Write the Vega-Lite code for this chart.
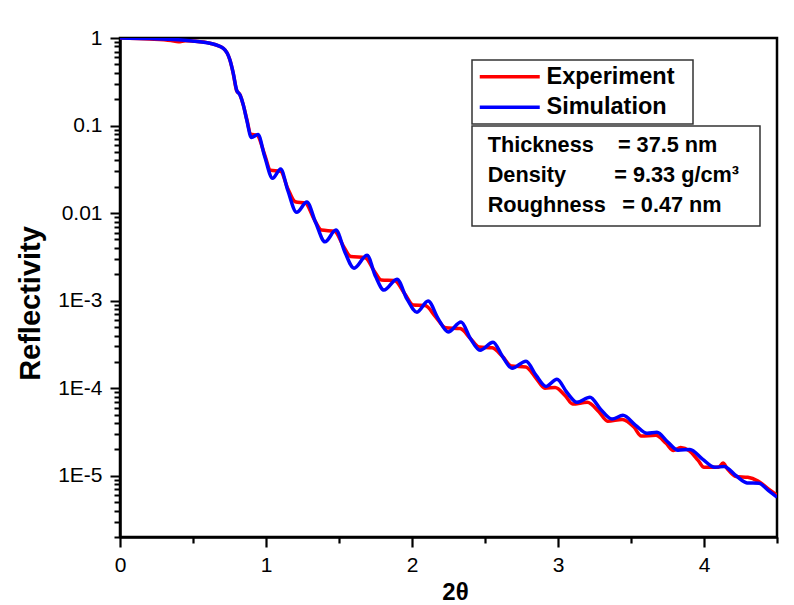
{
  "$schema": "https://vega.github.io/schema/vega-lite/v6.json",
  "width": 657,
  "height": 499,
  "autosize": "none",
  "padding": {"left": 120, "top": 38, "right": 17, "bottom": 68},
  "config": {
    "font": "Liberation Sans",
    "view": {"stroke": "black", "strokeWidth": 2.5},
    "legend": {"strokeWidth": 1.5}
  },
  "datasets": {
    "curves": [
      {"series": "Experiment", "x": 0, "y": 1.0},
      {"series": "Experiment", "x": 0.2, "y": 0.975},
      {"series": "Experiment", "x": 0.35, "y": 0.935},
      {"series": "Experiment", "x": 0.4, "y": 0.905},
      {"series": "Experiment", "x": 0.45, "y": 0.93},
      {"series": "Experiment", "x": 0.5, "y": 0.92},
      {"series": "Experiment", "x": 0.616, "y": 0.87},
      {"series": "Experiment", "x": 0.708, "y": 0.76},
      {"series": "Experiment", "x": 0.753, "y": 0.56},
      {"series": "Experiment", "x": 0.776, "y": 0.39},
      {"series": "Experiment", "x": 0.799, "y": 0.25},
      {"series": "Experiment", "x": 0.822, "y": 0.225},
      {"series": "Experiment", "x": 0.845, "y": 0.17},
      {"series": "Experiment", "x": 0.87, "y": 0.115},
      {"series": "Experiment", "x": 0.895, "y": 0.08},
      {"series": "Experiment", "x": 0.94, "y": 0.077},
      {"series": "Experiment", "x": 0.99, "y": 0.047},
      {"series": "Experiment", "x": 1.03, "y": 0.031},
      {"series": "Experiment", "x": 1.1, "y": 0.03},
      {"series": "Experiment", "x": 1.15, "y": 0.019},
      {"series": "Experiment", "x": 1.2, "y": 0.0135},
      {"series": "Experiment", "x": 1.27, "y": 0.013},
      {"series": "Experiment", "x": 1.33, "y": 0.0085},
      {"series": "Experiment", "x": 1.38, "y": 0.0064},
      {"series": "Experiment", "x": 1.47, "y": 0.0062},
      {"series": "Experiment", "x": 1.53, "y": 0.0042},
      {"series": "Experiment", "x": 1.58, "y": 0.0032},
      {"series": "Experiment", "x": 1.68, "y": 0.0031},
      {"series": "Experiment", "x": 1.74, "y": 0.0022},
      {"series": "Experiment", "x": 1.79, "y": 0.00172},
      {"series": "Experiment", "x": 1.88, "y": 0.0017},
      {"series": "Experiment", "x": 1.95, "y": 0.0012},
      {"series": "Experiment", "x": 2.01, "y": 0.00089},
      {"series": "Experiment", "x": 2.09, "y": 0.00088},
      {"series": "Experiment", "x": 2.16, "y": 0.00066},
      {"series": "Experiment", "x": 2.23, "y": 0.00049},
      {"series": "Experiment", "x": 2.33, "y": 0.00048},
      {"series": "Experiment", "x": 2.4, "y": 0.00037},
      {"series": "Experiment", "x": 2.46, "y": 0.000295},
      {"series": "Experiment", "x": 2.55, "y": 0.00029},
      {"series": "Experiment", "x": 2.62, "y": 0.00023},
      {"series": "Experiment", "x": 2.68, "y": 0.00018},
      {"series": "Experiment", "x": 2.78, "y": 0.000175},
      {"series": "Experiment", "x": 2.85, "y": 0.00013},
      {"series": "Experiment", "x": 2.91, "y": 0.0001},
      {"series": "Experiment", "x": 2.98, "y": 0.000102},
      {"series": "Experiment", "x": 3.05, "y": 0.000082},
      {"series": "Experiment", "x": 3.1, "y": 0.000066},
      {"series": "Experiment", "x": 3.2, "y": 0.000069},
      {"series": "Experiment", "x": 3.28, "y": 0.000054},
      {"series": "Experiment", "x": 3.34, "y": 0.000042},
      {"series": "Experiment", "x": 3.44, "y": 0.000044},
      {"series": "Experiment", "x": 3.52, "y": 0.000036},
      {"series": "Experiment", "x": 3.57, "y": 0.0000285},
      {"series": "Experiment", "x": 3.67, "y": 0.000029},
      {"series": "Experiment", "x": 3.74, "y": 0.0000235},
      {"series": "Experiment", "x": 3.79, "y": 0.0000195},
      {"series": "Experiment", "x": 3.84, "y": 0.000021},
      {"series": "Experiment", "x": 3.9, "y": 0.0000193},
      {"series": "Experiment", "x": 3.96, "y": 0.000015},
      {"series": "Experiment", "x": 4.0, "y": 0.0000125},
      {"series": "Experiment", "x": 4.1, "y": 0.0000125},
      {"series": "Experiment", "x": 4.13, "y": 0.000014},
      {"series": "Experiment", "x": 4.16, "y": 0.000012},
      {"series": "Experiment", "x": 4.22, "y": 0.0000098},
      {"series": "Experiment", "x": 4.3, "y": 0.0000096},
      {"series": "Experiment", "x": 4.37, "y": 0.0000087},
      {"series": "Experiment", "x": 4.45, "y": 0.0000069},
      {"series": "Experiment", "x": 4.5, "y": 0.000006},
      {"series": "Simulation", "x": 0, "y": 1.0},
      {"series": "Simulation", "x": 0.2, "y": 0.985},
      {"series": "Simulation", "x": 0.4, "y": 0.955},
      {"series": "Simulation", "x": 0.479, "y": 0.93},
      {"series": "Simulation", "x": 0.616, "y": 0.87},
      {"series": "Simulation", "x": 0.708, "y": 0.76},
      {"series": "Simulation", "x": 0.753, "y": 0.56},
      {"series": "Simulation", "x": 0.776, "y": 0.395},
      {"series": "Simulation", "x": 0.799, "y": 0.254},
      {"series": "Simulation", "x": 0.822, "y": 0.223},
      {"series": "Simulation", "x": 0.845, "y": 0.171},
      {"series": "Simulation", "x": 0.868, "y": 0.116},
      {"series": "Simulation", "x": 0.9, "y": 0.073},
      {"series": "Simulation", "x": 0.945, "y": 0.079},
      {"series": "Simulation", "x": 0.99, "y": 0.045},
      {"series": "Simulation", "x": 1.045, "y": 0.025},
      {"series": "Simulation", "x": 1.1, "y": 0.032},
      {"series": "Simulation", "x": 1.15, "y": 0.018},
      {"series": "Simulation", "x": 1.21, "y": 0.0102},
      {"series": "Simulation", "x": 1.28, "y": 0.0134},
      {"series": "Simulation", "x": 1.34, "y": 0.0078},
      {"series": "Simulation", "x": 1.404, "y": 0.0047},
      {"series": "Simulation", "x": 1.479, "y": 0.0064},
      {"series": "Simulation", "x": 1.54, "y": 0.0036},
      {"series": "Simulation", "x": 1.603, "y": 0.00235},
      {"series": "Simulation", "x": 1.692, "y": 0.0033},
      {"series": "Simulation", "x": 1.75, "y": 0.0019},
      {"series": "Simulation", "x": 1.808, "y": 0.00132},
      {"series": "Simulation", "x": 1.897, "y": 0.00176},
      {"series": "Simulation", "x": 1.965, "y": 0.00105},
      {"series": "Simulation", "x": 2.034, "y": 0.00074},
      {"series": "Simulation", "x": 2.11, "y": 0.00099},
      {"series": "Simulation", "x": 2.18, "y": 0.00062},
      {"series": "Simulation", "x": 2.247, "y": 0.00044},
      {"series": "Simulation", "x": 2.336, "y": 0.00057},
      {"series": "Simulation", "x": 2.4, "y": 0.00037},
      {"series": "Simulation", "x": 2.466, "y": 0.000272},
      {"series": "Simulation", "x": 2.555, "y": 0.000336},
      {"series": "Simulation", "x": 2.62, "y": 0.00023},
      {"series": "Simulation", "x": 2.685, "y": 0.000169},
      {"series": "Simulation", "x": 2.781, "y": 0.000204},
      {"series": "Simulation", "x": 2.85, "y": 0.00014},
      {"series": "Simulation", "x": 2.918, "y": 0.000105},
      {"series": "Simulation", "x": 2.993, "y": 0.000127},
      {"series": "Simulation", "x": 3.06, "y": 0.00009},
      {"series": "Simulation", "x": 3.13, "y": 0.000069},
      {"series": "Simulation", "x": 3.219, "y": 0.000079},
      {"series": "Simulation", "x": 3.29, "y": 0.000058},
      {"series": "Simulation", "x": 3.37, "y": 0.0000445},
      {"series": "Simulation", "x": 3.445, "y": 0.000049},
      {"series": "Simulation", "x": 3.53, "y": 0.000038},
      {"series": "Simulation", "x": 3.61, "y": 0.0000306},
      {"series": "Simulation", "x": 3.678, "y": 0.0000314},
      {"series": "Simulation", "x": 3.75, "y": 0.0000245},
      {"series": "Simulation", "x": 3.822, "y": 0.0000196},
      {"series": "Simulation", "x": 3.904, "y": 0.00002},
      {"series": "Simulation", "x": 3.99, "y": 0.0000155},
      {"series": "Simulation", "x": 4.075, "y": 0.0000125},
      {"series": "Simulation", "x": 4.137, "y": 0.0000128},
      {"series": "Simulation", "x": 4.22, "y": 0.00001},
      {"series": "Simulation", "x": 4.295, "y": 0.0000083},
      {"series": "Simulation", "x": 4.377, "y": 0.0000082},
      {"series": "Simulation", "x": 4.44, "y": 0.0000068},
      {"series": "Simulation", "x": 4.5, "y": 0.0000057}
    ],
    "params": [
      {"param": "Thickness\u00a0\u00a0\u00a0\u00a0= 37.5 nm"},
      {"param": "Density\u00a0\u00a0\u00a0\u00a0\u00a0\u00a0\u00a0\u00a0= 9.33 g/cm\u00b3\u00a0\u00a0\u200b"},
      {"param": "Roughness\u00a0\u00a0\u2009= 0.47 nm"}
    ]
  },
  "layer": [
    {
      "data": {"name": "curves"},
      "mark": {"type": "line", "interpolate": "monotone", "strokeWidth": 3.5, "clip": true},
      "encoding": {
        "x": {
          "field": "x",
          "type": "quantitative",
          "scale": {"domain": [0, 4.5], "nice": false, "zero": false},
          "axis": {
            "values": [0, 0.5, 1, 1.5, 2, 2.5, 3, 3.5, 4, 4.5],
            "labelExpr": "datum.value % 1 == 0 ? '' + datum.value : ''",
            "labelFlush": false,
            "labelOverlap": false,
            "labelFontSize": 21,
            "labelColor": "black",
            "labelPadding": 7,
            "tickSize": {"condition": {"test": "datum.value % 1 == 0", "value": 10}, "value": 6},
            "tickWidth": 2.2,
            "tickColor": "black",
            "domainColor": "black",
            "domainWidth": 2.5,
            "grid": false,
            "title": "2θ",
            "titleFontSize": 24,
            "titleFontWeight": "bold",
            "titleColor": "black",
            "titlePadding": 5,
            "titleX": 335
          }
        },
        "y": {
          "field": "y",
          "type": "quantitative",
          "scale": {"type": "log", "domain": [0.000002, 1], "nice": false},
          "axis": {
            "values": [0.000002, 0.000003, 0.000004, 0.000005, 0.000006, 0.000007, 0.000008, 0.000009,
                       0.00001, 0.00002, 0.00003, 0.00004, 0.00005, 0.00006, 0.00007, 0.00008, 0.00009,
                       0.0001, 0.0002, 0.0003, 0.0004, 0.0005, 0.0006, 0.0007, 0.0008, 0.0009,
                       0.001, 0.002, 0.003, 0.004, 0.005, 0.006, 0.007, 0.008, 0.009,
                       0.01, 0.02, 0.03, 0.04, 0.05, 0.06, 0.07, 0.08, 0.09,
                       0.1, 0.2, 0.3, 0.4, 0.5, 0.6, 0.7, 0.8, 0.9, 1],
            "labelExpr": "datum.value == 1 ? '1' : datum.value == 0.1 ? '0.1' : datum.value == 0.01 ? '0.01' : datum.value == 0.001 ? '1E-3' : datum.value == 0.0001 ? '1E-4' : datum.value == 0.00001 ? '1E-5' : ''",
            "labelFlush": false,
            "labelOverlap": false,
            "labelFontSize": 21,
            "labelColor": "black",
            "labelPadding": 8,
            "tickSize": {"condition": {"test": "datum.value == 1 || datum.value == 0.1 || datum.value == 0.01 || datum.value == 0.001 || datum.value == 0.0001 || datum.value == 0.00001", "value": 10}, "value": 6},
            "tickWidth": 2,
            "tickColor": "black",
            "domainColor": "black",
            "domainWidth": 2.5,
            "grid": false,
            "title": "Reflectivity",
            "titleFontSize": 29,
            "titleFontWeight": "bold",
            "titleColor": "black",
            "titleX": -75,
            "titleY": 265
          }
        },
        "color": {
          "field": "series",
          "type": "nominal",
          "scale": {"domain": ["Experiment", "Simulation"], "range": ["#ff0000", "#0000ff"]},
          "legend": {
            "orient": "none",
            "legendX": 352,
            "legendY": 22,
            "title": null,
            "symbolType": "M0,0H12",
            "symbolSize": 100,
            "symbolStrokeWidth": 3.5,
            "symbolOffset": -9,
            "labelFontSize": 23.5,
            "labelFontWeight": "bold",
            "labelColor": "black",
            "labelOffset": 55,
            "labelLimit": 400,
            "labelExpr": "datum.label + '\u00a0\u00a0\u200b'",
            "padding": 5,
            "rowPadding": 5.5,
            "strokeColor": "#333333"
          }
        }
      }
    },
    {
      "data": {"name": "params"},
      "mark": {"type": "point", "opacity": 0},
      "encoding": {
        "shape": {
          "field": "param",
          "type": "nominal",
          "scale": {"domain": ["Thickness\u00a0\u00a0\u00a0\u00a0= 37.5 nm", "Density\u00a0\u00a0\u00a0\u00a0\u00a0\u00a0\u00a0\u00a0= 9.33 g/cm\u00b3\u00a0\u00a0\u200b", "Roughness\u00a0\u00a0\u2009= 0.47 nm"]},
          "legend": {
            "orient": "none",
            "legendX": 352,
            "legendY": 88,
            "title": null,
            "symbolSize": 4,
            "symbolOpacity": 0,
            "symbolStrokeWidth": 0,
            "labelFontSize": 21.7,
            "labelFontWeight": "bold",
            "labelColor": "black",
            "labelOffset": -14,
            "labelLimit": 400,
            "padding": 8,
            "rowPadding": 7.3,
            "strokeColor": "#333333"
          }
        }
      }
    }
  ]
}
